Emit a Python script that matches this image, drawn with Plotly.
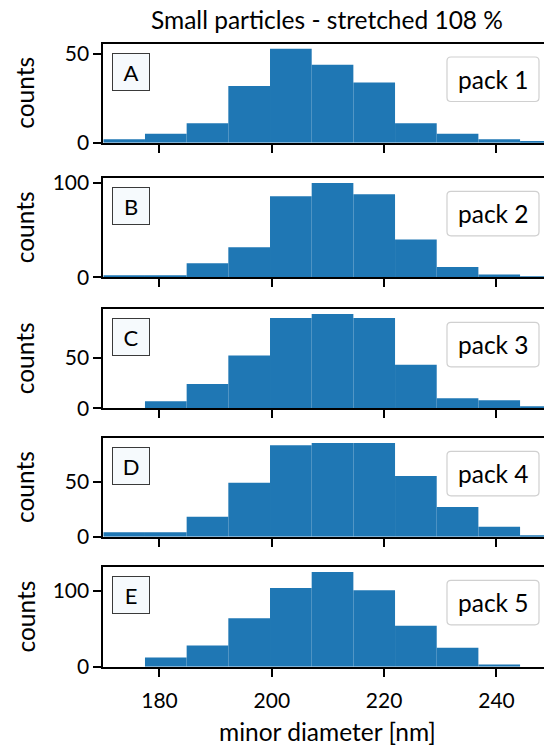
import plotly.graph_objects as go

# ---- data -------------------------------------------------------------
bin_edges = [170.0, 177.42, 184.84, 192.26, 199.68, 207.10,
             214.52, 221.94, 229.36, 236.78, 244.20, 251.62]

counts_pack1 = [2, 5, 11, 32, 53, 44, 34, 11, 5, 2, 1]
counts_pack2 = [2, 2, 15, 32, 86, 100, 88, 40, 11, 3, 1]
counts_pack3 = [0, 7, 24, 52, 89, 93, 89, 43, 10, 8, 2]
counts_pack4 = [4, 4, 18, 49, 83, 85, 85, 55, 27, 9, 1]
counts_pack5 = [0, 12, 28, 64, 104, 125, 101, 54, 25, 3, 0]

panel_letters = ["A", "B", "C", "D", "E"]
pack_names = ["pack 1", "pack 2", "pack 3", "pack 4", "pack 5"]
y_tickvals = [[0, 50], [0, 100], [0, 50], [0, 50], [0, 100]]
x_tickvals = [180, 200, 220, 240]

title_text = "Small particles - stretched 108 %"
x_label = "minor diameter [nm]"
y_label = "counts"

all_counts = [counts_pack1, counts_pack2, counts_pack3, counts_pack4, counts_pack5]

# ---- layout geometry (pixels) ----------------------------------------
W, H = 544, 745
ax_left = 103.3
ax_right = 544.0
ax_tops = [44.0, 178.3, 309.3, 438.3, 567.3]
ax_bottoms = [142.7, 277.3, 408.3, 536.7, 666.7]
x_range = [170.0, 248.46]

FONT = "Lato, 'Open Sans', sans-serif"
FS_TICK = 21
FS_TEXT = 24.5
BAR_COLOR = "#1f77b4"


def px_x(p):
    return p / W


def px_y(p):
    return 1 - p / H


def rounded_rect(x0, y0, x1, y1, r):
    """SVG path in paper units for a rounded rectangle given in pixels."""
    def P(x, y):
        return f"{px_x(x):.5f},{px_y(y):.5f}"
    return (f"M {P(x0 + r, y0)} L {P(x1 - r, y0)} "
            f"Q {P(x1, y0)} {P(x1, y0 + r)} L {P(x1, y1 - r)} "
            f"Q {P(x1, y1)} {P(x1 - r, y1)} L {P(x0 + r, y1)} "
            f"Q {P(x0, y1)} {P(x0, y1 - r)} L {P(x0, y0 + r)} "
            f"Q {P(x0, y0)} {P(x0 + r, y0)} Z")


centers = [(a + b) / 2 for a, b in zip(bin_edges[:-1], bin_edges[1:])]
widths = [b - a for a, b in zip(bin_edges[:-1], bin_edges[1:])]

fig = go.Figure()
annotations = []
shapes = []
layout_axes = {}

for i, counts in enumerate(all_counts):
    n = i + 1
    sx = "" if n == 1 else str(n)
    fig.add_trace(go.Bar(
        x=centers, y=counts, width=widths,
        marker=dict(color=BAR_COLOR, line=dict(width=0)),
        xaxis="x" + sx, yaxis="y" + sx, showlegend=False,
        hoverinfo="x+y",
    ))

    top, bot = ax_tops[i], ax_bottoms[i]
    last = (n == len(all_counts))
    layout_axes["xaxis" + sx] = dict(
        domain=[px_x(ax_left), px_x(ax_right)],
        anchor="y" + sx,
        range=x_range,
        tickvals=x_tickvals,
        showticklabels=last,
        ticklabelstandoff=6,
        automargin=False,
        ticks="outside", ticklen=8, tickwidth=1.5, tickcolor="black",
        showline=True, linecolor="black", linewidth=1.8, mirror=True,
        showgrid=False, zeroline=False,
        tickfont=dict(family=FONT, size=FS_TICK, color="black"),
    )
    layout_axes["yaxis" + sx] = dict(
        domain=[px_y(bot), px_y(top)],
        anchor="x" + sx,
        range=[0, max(counts) * 1.05],
        tickvals=y_tickvals[i],
        automargin=False,
        ticks="outside", ticklen=8, tickwidth=1.5, tickcolor="black",
        showline=True, linecolor="black", linewidth=1.8, mirror=False,
        showgrid=False, zeroline=False,
        tickfont=dict(family=FONT, size=FS_TICK, color="black"),
    )

    # panel letter box
    annotations.append(dict(
        xref="paper", yref="paper",
        x=px_x(ax_left + 8.7), y=px_y(top + 8.7),
        xanchor="left", yanchor="top",
        text=panel_letters[i], showarrow=False,
        width=36, height=36, borderpad=0, borderwidth=1,
        bordercolor="#3a3a3a", bgcolor="#f6fafd",
        font=dict(family=FONT, size=FS_TICK + 1, color="black"),
    ))

    # legend-style box on the right
    lx0, lx1 = 447.0, 539.0
    ly0, ly1 = top + 13.0, top + 57.5
    shapes.append(dict(
        type="path", xref="paper", yref="paper",
        path=rounded_rect(lx0, ly0, lx1, ly1, 4),
        line=dict(color="#d0d0d0", width=1.2),
        fillcolor="rgba(255,255,255,0.85)",
    ))
    annotations.append(dict(
        xref="paper", yref="paper",
        x=px_x((lx0 + lx1) / 2), y=px_y((ly0 + ly1) / 2),
        xanchor="center", yanchor="middle",
        text=pack_names[i], showarrow=False,
        font=dict(family=FONT, size=FS_TEXT, color="black"),
    ))

    # y-axis label
    annotations.append(dict(
        xref="paper", yref="paper",
        x=px_x(24.5), y=px_y((top + bot) / 2),
        xanchor="center", yanchor="middle",
        text=y_label, textangle=-90, showarrow=False,
        font=dict(family=FONT, size=FS_TEXT, color="black"),
    ))

# title and x label
annotations.append(dict(
    xref="paper", yref="paper", x=px_x(326.7), y=px_y(20.0),
    xanchor="center", yanchor="middle", text=title_text, showarrow=False,
    font=dict(family=FONT, size=FS_TEXT, color="black"),
))
annotations.append(dict(
    xref="paper", yref="paper", x=px_x(327.0), y=px_y(731.0),
    xanchor="center", yanchor="middle", text=x_label, showarrow=False,
    font=dict(family=FONT, size=FS_TEXT, color="black"),
))

fig.update_layout(
    width=W, height=H,
    margin=dict(l=0, r=0, t=0, b=0, autoexpand=False),
    paper_bgcolor="white", plot_bgcolor="white",
    annotations=annotations, shapes=shapes,
    barmode="overlay",
    **layout_axes,
)

fig.write_html("out.html", config={"displayModeBar": False})
